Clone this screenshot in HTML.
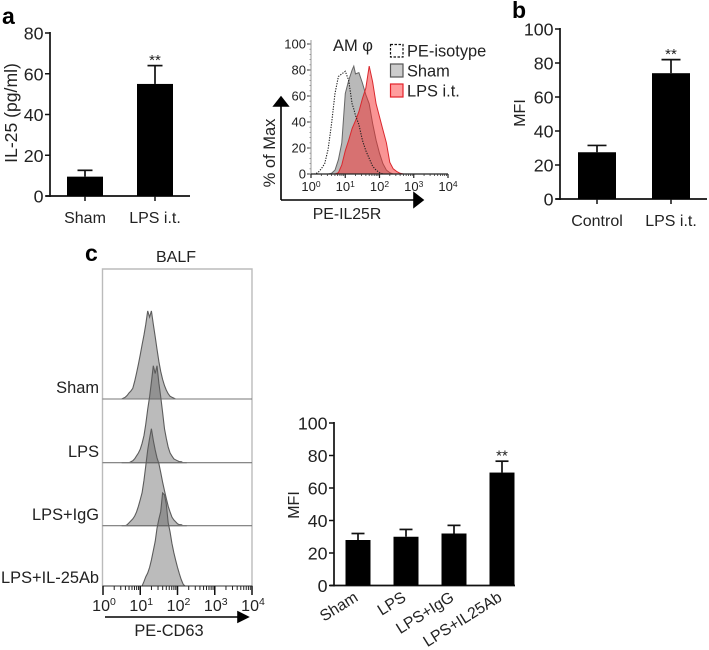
<!DOCTYPE html>
<html>
<head>
<meta charset="utf-8">
<title>IL-25 panel figure</title>
<style>
html,body{margin:0;padding:0;background:#fff;}
svg{display:block;}
text{font-family:"Liberation Sans",sans-serif;fill:#222;}
</style>
</head>
<body>
<svg id="fig" xmlns="http://www.w3.org/2000/svg" width="709" height="650" viewBox="0 0 709 650"></svg>
<script>
/* Panel a bar chart */
const aCategories = ['Sham', 'LPS i.t.'];
const aValues = [9.5, 55];
const aErrors = [12.6, 64];
const aTicks = [0, 20, 40, 60, 80];
const aStars = ['', '**'];
/* Panel b bar chart */
const bCategories = ['Control', 'LPS i.t.'];
const bValues = [27.5, 74];
const bErrors = [31.5, 82];
const bTicks = [0, 20, 40, 60, 80, 100];
const bStars = ['', '**'];
/* Panel c bar chart */
const cCategories = ['Sham', 'LPS', 'LPS+IgG', 'LPS+IL25Ab'];
const cValues = [28, 30, 32, 69.5];
const cErrors = [32, 34.5, 37, 76.5];
const cTicks = [0, 20, 40, 60, 80, 100];
const cStars = ['', '', '', '**'];
/* Panel a histogram: log10 fluorescence bins and % of max */
const amBins = [0,0.1,0.2,0.3,0.4,0.5,0.6,0.7,0.8,0.9,1,1.1,1.2,1.25,1.3,1.4,1.5,1.6,1.7,1.8,1.9,2,2.1,2.2,2.3,2.4,2.5,2.6,2.7];
const amIsotype = [0,0,1,4,8,19,39,62,75,77,79,72,54,50,45,38,26,18,12,6,3,1,0,0,0,0,0,0,0];
const amSham = [0,0,0,0,0,0,0.5,3,11,24,62,72,80,83,77,78,70,61,54,39,26,16,8,3,1,0,0,0,0];
const amLps = [0,0,0,0,0,0,0,0,1,7,18,26,35,38,41,48,58,66,83,71,54,44,34,24,9,4,2,0.5,0];
const amYTicks = [0, 20, 40, 60, 80, 100];
const logDecades = [0, 1, 2, 3, 4];
const logMinors = [2, 3, 4, 5, 6, 7, 8, 9];
/* Panel c stacked histograms: log10 bins and % of track peak */
const balfBins = [0.5,0.55,0.6,0.65,0.7,0.75,0.8,0.85,0.9,0.95,1,1.05,1.1,1.15,1.2,1.25,1.3,1.35,1.4,1.45,1.5,1.55,1.6,1.65,1.7,1.75,1.8,1.85,1.9,1.95,2,2.05,2.1,2.15,2.2,2.25];
const balfLabels = ['Sham', 'LPS', 'LPS+IgG', 'LPS+IL-25Ab'];
const balfSham = [0,1,2,4,7,9,12,20,29,39,50,61,72,84,99,92,99,84,70,56,42,31,22,15,10,6,3,2,1,0,0,0,0,0,0,0];
const balfLps = [0,0,0,0,0,1,2,4,7,10,14,20,28,40,55,68,83,100,92,100,82,68,52,35,25,16,10,7,4,3,2,1,1,0,0,0];
const balfIgG = [0,0,0,1,3,5,7,10,14,20,27,34,47,62,78,90,100,88,78,70,64,55,45,36,28,20,14,9,6,4,2,1,1,0,0,0];
const balfIl25 = [0,0,0,0,0,0,0,0,0,0,0,0,5,10,14,20,28,38,48,62,72,80,100,98,88,68,58,46,36,28,20,13,7,2,0,0];

const NS = 'http://www.w3.org/2000/svg';
const fig = document.getElementById('fig');

function make(tag, attrs, parent) {
  const el = document.createElementNS(NS, tag);
  for (const k in attrs) el.setAttribute(k, attrs[k]);
  (parent || fig).appendChild(el);
  return el;
}
function label(txt, x, y, size, anchor, parent, extra) {
  const t = make('text', Object.assign({x: x, y: y, 'font-size': size, 'text-anchor': anchor || 'middle'}, extra || {}), parent);
  t.textContent = txt;
  return t;
}
function line(x1, y1, x2, y2, color, w, parent) {
  return make('line', {x1: x1, y1: y1, x2: x2, y2: y2, stroke: color, 'stroke-width': w}, parent);
}

function barChart(o) {
  const g = make('g', {}, fig);
  
  
  const yScale = v => o.yZero - v / o.max * (o.yZero - o.y0);
  const yAxis = line(o.xAxis, o.y0 - 1, o.xAxis, o.yZero + 1, '#111', 1.7, g);
  
  
  const xAxis = line(o.xAxis - 4, o.yZero, o.xEnd, o.yZero, '#111', 1.7, g);
  
  
  o.ticks.forEach(v => {
    const tick = line(o.xAxis - 5, yScale(v), o.xAxis, yScale(v), '#111', 1.5, g);
    
    
    const tl = label(String(v), o.xAxis - 6.5, yScale(v) + 6.5, 17.8, 'end', g);
    
    
  });
  o.categories.forEach((c, i) => {
    const cx = o.barX(i);
    const bar = make('rect', {x: cx - o.barW / 2, y: yScale(o.values[i]), width: o.barW, height: o.yZero - yScale(o.values[i]), fill: '#000'}, g);
    
    
    const stem = line(cx, yScale(o.values[i]), cx, yScale(o.errors[i]), '#111', 1.7, g);
    
    
    const cap = line(cx - o.capW / 2, yScale(o.errors[i]), cx + o.capW / 2, yScale(o.errors[i]), '#111', 1.7, g);
    
    
    if (o.xTicks) {
      const xt = line(cx, o.yZero, cx, o.yZero + 5, '#111', 1.5, g);
      
      
    }
    let cl;
    if (o.rotate) {
      const lx = cx + 1, ly = o.yZero + 14.5;
      cl = label(c, lx, ly, 15.8, 'end', g, {transform: 'rotate(' + o.rotate + ' ' + lx + ' ' + ly + ')'});
    } else {
      cl = label(c, cx, o.yZero + 27, 16, 'middle', g);
    }
    
    
    if (o.stars[i]) {
      const st = label(o.stars[i], cx, yScale(o.errors[i]) - o.starGap, 15, 'middle', g);
      
      
    }
  });
  const tx = o.titleX, ty = o.titleY;
  const title = label(o.title, tx, ty, o.titleSize, 'middle', g, {transform: 'rotate(-90 ' + tx + ' ' + ty + ')'});
  
  
}

barChart({name: 'chart-a', categories: aCategories, values: aValues, errors: aErrors, ticks: aTicks, stars: aStars,
  max: 80, y0: 33, yZero: 196, xAxis: 50, xEnd: 190, barW: 36, capW: 15, xTicks: true,
  barX: i => 85 + i * 70, title: 'IL-25 (pg/ml)', titleX: 17, titleY: 113, titleSize: 17.6, starGap: 0.5});
barChart({name: 'chart-b', categories: bCategories, values: bValues, errors: bErrors, ticks: bTicks, stars: bStars,
  max: 100, y0: 29, yZero: 199, xAxis: 560, xEnd: 707, barW: 38, capW: 19, xTicks: true,
  barX: i => 597 + i * 74, title: 'MFI', titleX: 525, titleY: 113, titleSize: 16, starGap: 0.5});
barChart({name: 'chart-c-mfi', categories: cCategories, values: cValues, errors: cErrors, ticks: cTicks, stars: cStars,
  max: 100, y0: 423, yZero: 585.5, xAxis: 334, xEnd: 515, barW: 25, capW: 13, xTicks: false, rotate: -32,
  barX: i => 358 + i * 48, title: 'MFI', titleX: 299, titleY: 505, titleSize: 16, starGap: 0.5});

/* Panel a histogram */
const am = make('g', {}, fig);


const amX = v => 311 + v * 34.25;
const amY = v => 174 - v * 1.3;
function amPath(vals, bins, close) {
  let pts = bins.map((b, i) => amX(b).toFixed(1) + ',' + amY(vals[i]).toFixed(1));
  return 'M' + pts.join('L') + (close ? 'Z' : '');
}
const shamCurve = make('path', {d: amPath(amSham, amBins, true), fill: '#8a8a8a', 'fill-opacity': 0.6, stroke: '#666', 'stroke-width': 1}, am);


const lpsCurve = make('path', {d: amPath(amLps, amBins, true), fill: '#f52a2a', 'fill-opacity': 0.5, stroke: '#d9282e', 'stroke-width': 1}, am);


const isoCurve = make('path', {d: amPath(amIsotype, amBins, false), fill: 'none', stroke: '#222', 'stroke-width': 1.1, 'stroke-dasharray': '1.3 1.3'}, am);


const amYAxis = line(311, 40, 311, 174, '#999', 1, am);


const amXAxis = line(311, 174, 448, 174, '#222', 1.2, am);


amYTicks.forEach(v => {
  const t = line(307, amY(v), 311, amY(v), '#333', 1, am);
  
  
  const tl = label(String(v), 306, amY(v) + 4.5, 13, 'end', am);
  
  
});
for (let v = 0; v <= 100; v += 4) {
  const t = line(309.5, amY(v), 311, amY(v), '#888', 0.8, am);
  
  
}
logDecades.forEach(d => {
  const t = line(amX(d), 174, amX(d), 178, '#222', 1.2, am);
  
  
  const tl = make('text', {x: amX(d), y: 191, 'font-size': 13, 'text-anchor': 'middle'}, am);
  
  
  tl.appendChild(document.createTextNode('10'));
  const sp = make('tspan', {'font-size': 8.5, dy: -4}, tl);
  sp.textContent = String(d);
  if (d < 4) logMinors.forEach(m => {
    const mt = line(amX(d + Math.log10(m)), 174, amX(d + Math.log10(m)), 176, '#333', 0.8, am);
    
    
  });
});
const amArrowV = make('path', {d: 'M281 200V106M274 106L281 97L288 106Z', stroke: '#000', 'stroke-width': 1.6, fill: '#000'}, am);


const amArrowH = make('path', {d: 'M281 200H414M414 193L423 200L414 207Z', stroke: '#000', 'stroke-width': 1.6, fill: '#000'}, am);


const amYT = label('% of Max', 275, 153, 16.5, 'middle', am, {transform: 'rotate(-90 275 153)'});


const amXT = label('PE-IL25R', 347, 219, 15.8, 'middle', am);


const amT = label('AM φ', 353, 51, 16.5, 'middle', am);



const leg1 = make('rect', {x: 390.5, y: 44.5, width: 12.5, height: 12.5, fill: '#fff', stroke: '#111', 'stroke-width': 1.2, 'stroke-dasharray': '2.5 1.5'}, am);


const leg2 = make('rect', {x: 390.5, y: 64, width: 12.5, height: 13, fill: '#ccc', stroke: '#555', 'stroke-width': 1.2}, am);


const leg3 = make('rect', {x: 390.5, y: 84, width: 12.5, height: 13, fill: '#ff9d9d', stroke: '#e3222a', 'stroke-width': 1.2}, am);


const legT1 = label('PE-isotype', 407, 56.5, 16.4, 'start', am);


const legT2 = label('Sham', 407, 76.5, 16.4, 'start', am);


const legT3 = label('LPS i.t.', 407, 96.5, 16.4, 'start', am);



/* Panel c stacked histograms */
const balf = make('g', {}, fig);


const balfX = v => 103 + v * 37.25;
const frame = make('path', {d: 'M102.5 586V269H252V586', fill: 'none', stroke: '#bbb', 'stroke-width': 1.4}, balf);


const balfSeries = [balfSham, balfLps, balfIgG, balfIl25];
const balfBase = [399, 462.7, 525.7, 586];
const balfHeight = [0.89, 0.97, 0.97, 0.93];
const balfText = [393, 457, 520, 583];
balfSeries.forEach((vals, s) => {
  const base = balfBase[s], h = balfHeight[s];
  let d = 'M' + balfX(balfBins[0]).toFixed(1) + ',' + base;
  balfBins.forEach((b, i) => { d += 'L' + balfX(b).toFixed(1) + ',' + (base - vals[i] * h).toFixed(1); });
  d += 'L' + balfX(balfBins[balfBins.length - 1]).toFixed(1) + ',' + base + 'Z';
  const curve = make('path', {d: d, fill: '#555', 'fill-opacity': 0.4, stroke: '#5c5c5c', 'stroke-width': 1.1}, balf);
  
  
  if (s < 3) {
    const bl = line(102.5, base, 252, base, '#777', 1.1, balf);
    
    
  }
  const lab = label(balfLabels[s], 99, balfText[s], 16.4, 'end', balf);
  
  
});
const balfAxis = line(102.5, 586, 252.5, 586, '#333', 1.1, balf);


logDecades.forEach(d => {
  const t = line(balfX(d), 586, balfX(d), 595, '#111', 1.5, balf);
  
  
  const tl = make('text', {x: balfX(d) + 1, y: 611, 'font-size': 16, 'text-anchor': 'middle'}, balf);
  
  
  tl.appendChild(document.createTextNode('10'));
  const sp = make('tspan', {'font-size': 10.5, dy: -6}, tl);
  sp.textContent = String(d);
  if (d < 4) logMinors.forEach(m => {
    const mt = line(balfX(d + Math.log10(m)), 586, balfX(d + Math.log10(m)), 590, '#222', 1, balf);
    
    
  });
});
const balfArrow = make('path', {d: 'M105 617H238M238 612L248 617L238 622Z', stroke: '#000', 'stroke-width': 1.6, fill: '#000'}, balf);


const balfXT = label('PE-CD63', 169, 636, 16.4, 'middle', balf);


const balfT = label('BALF', 176, 262, 16, 'middle', balf);



/* Panel letters */
const panelA = label('a', 2, 24, 23, 'start', fig, {'font-weight': 'bold', style: 'fill:#000'});


const panelB = label('b', 512, 18, 23, 'start', fig, {'font-weight': 'bold', style: 'fill:#000'});


const panelC = label('c', 85, 261, 23, 'start', fig, {'font-weight': 'bold', style: 'fill:#000'});


</script>
</body>
</html>
